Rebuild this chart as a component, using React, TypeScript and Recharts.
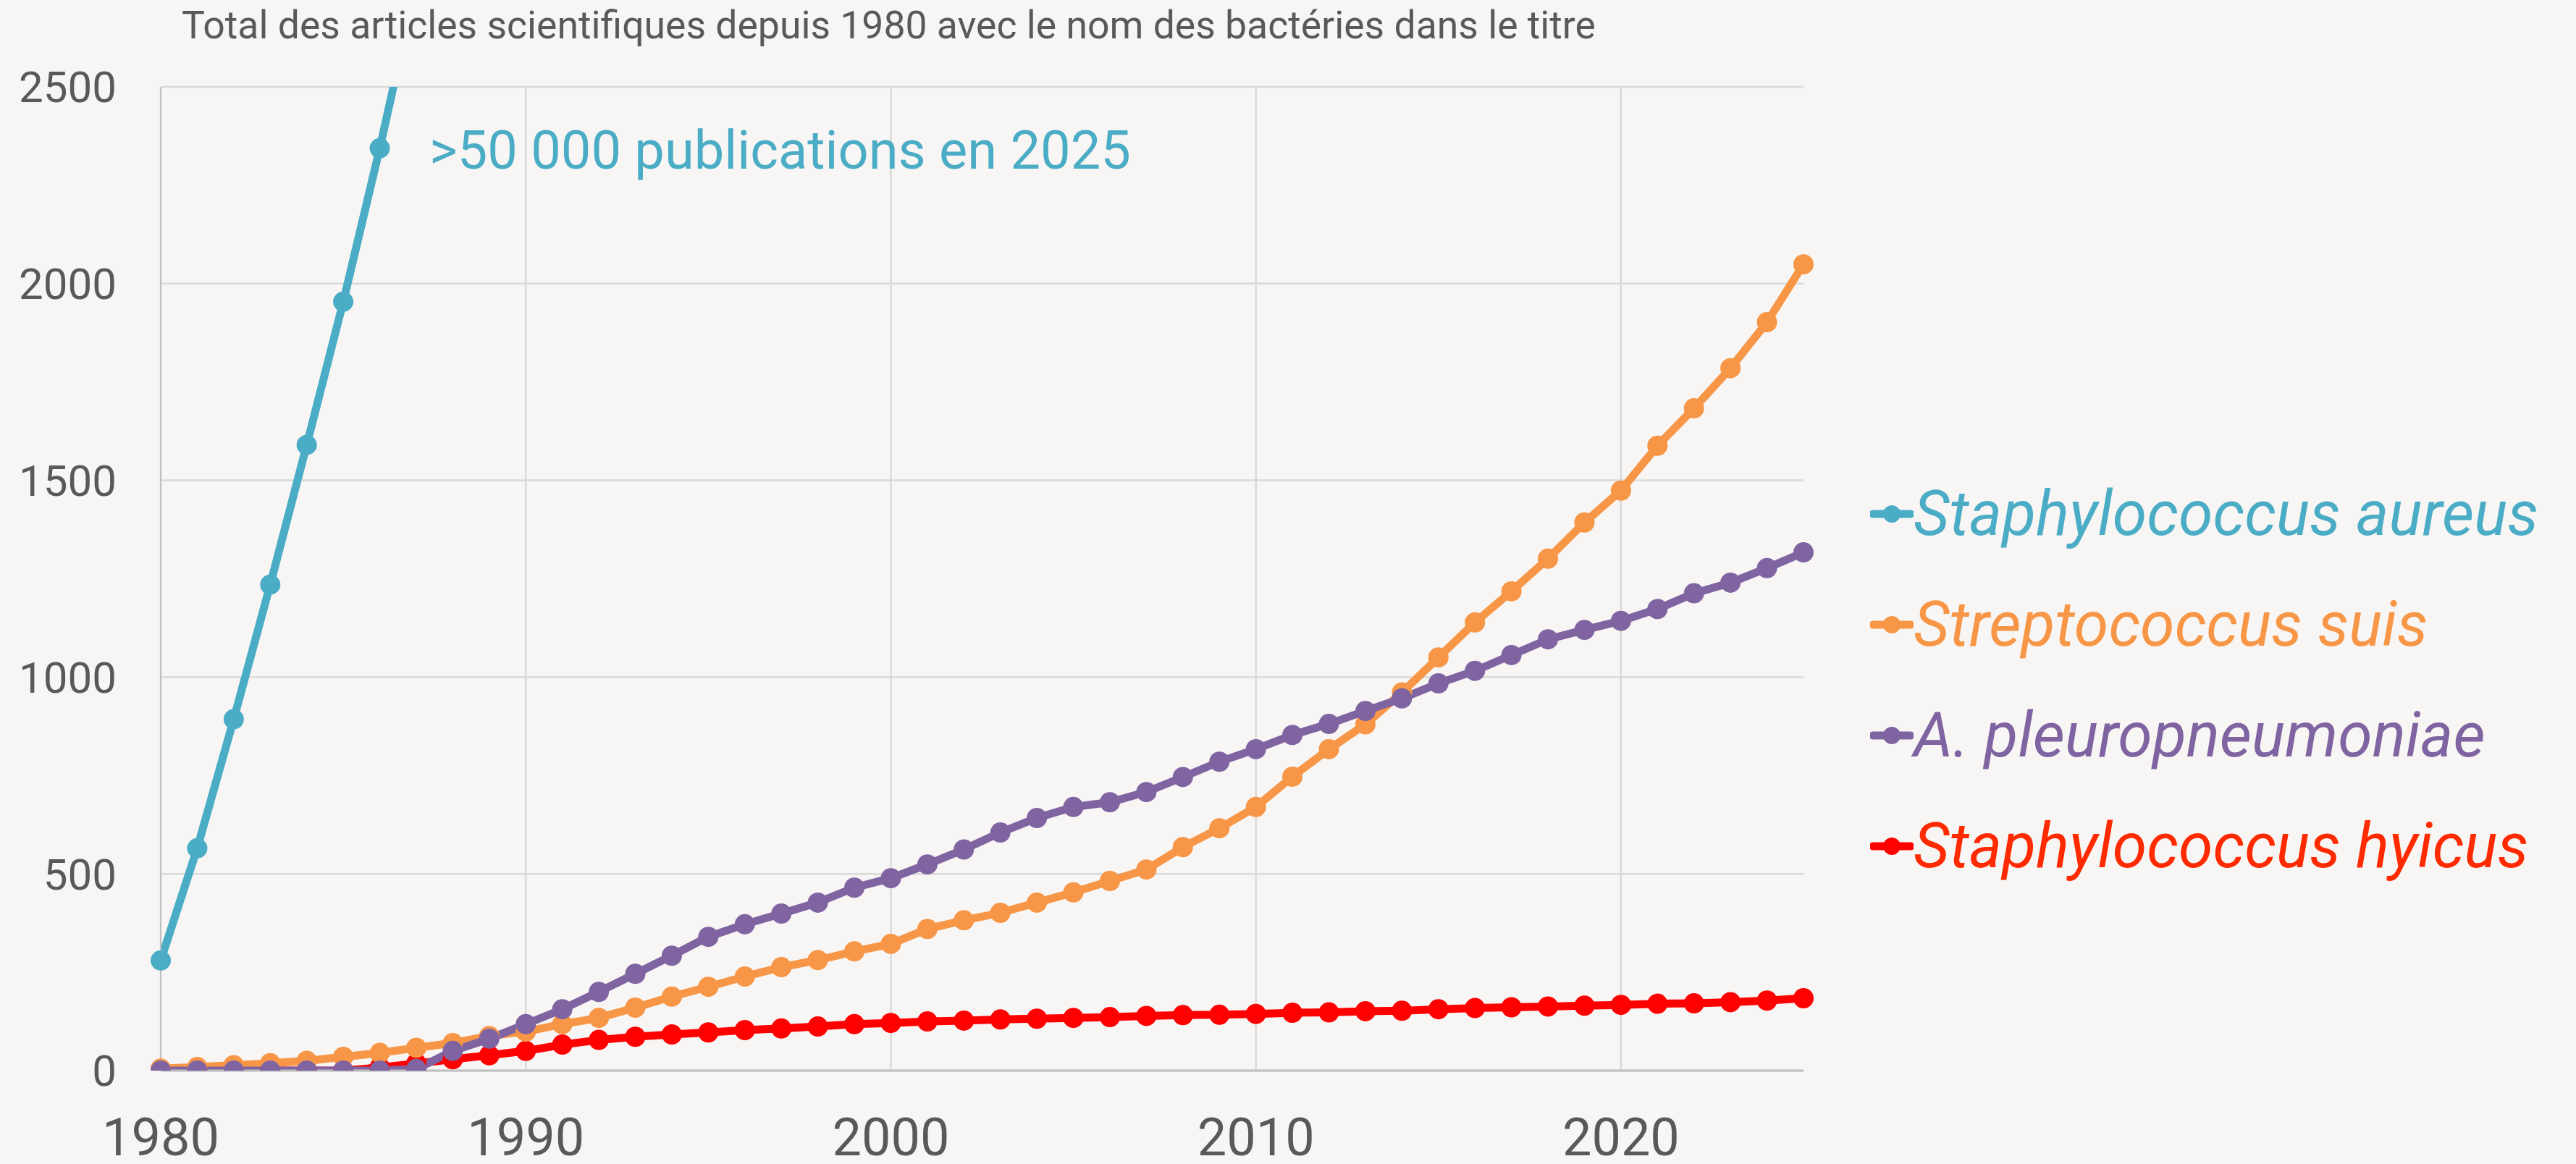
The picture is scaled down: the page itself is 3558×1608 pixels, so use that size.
import React from "react";
import {
  LineChart,
  Line,
  XAxis,
  YAxis,
  CartesianGrid,
  Legend,
} from "recharts";

// Années 1980 → 2025
const YEARS = [
  1980, 1981, 1982, 1983, 1984, 1985, 1986, 1987, 1988, 1989, 1990, 1991,
  1992, 1993, 1994, 1995, 1996, 1997, 1998, 1999, 2000, 2001, 2002, 2003,
  2004, 2005, 2006, 2007, 2008, 2009, 2010, 2011, 2012, 2013, 2014, 2015,
  2016, 2017, 2018, 2019, 2020, 2021, 2022, 2023, 2024, 2025,
];

// Staphylococcus aureus sort du cadre après 1986
const AUREUS = [280, 565, 893, 1235, 1590, 1954, 2344, 2760];

const SUIS = [
  5, 9, 14, 19, 25, 35, 45, 58, 70, 88, 99, 118, 134, 160, 188, 213, 239, 263,
  281, 303, 322, 360, 382, 401, 427, 453, 482, 511, 568, 616, 670, 747, 817,
  880, 961, 1050, 1139, 1218, 1301, 1393, 1474, 1588, 1683, 1785, 1902, 2049,
];

const PLEURO = [
  0, 0, 0, 0, 0, 0, 0, 4, 50, 81, 118, 156, 200, 246, 292, 340, 372, 399, 427,
  465, 489, 524, 562, 605, 642, 670, 682, 708, 746, 785, 817, 853, 881, 914,
  946, 984, 1016, 1056, 1096, 1120, 1143, 1173, 1213, 1240, 1277, 1317,
];

const HYICUS = [
  0, 0, 0, 0, 0, 0, 8, 18, 29, 39, 50, 66, 78, 86, 92, 97, 103, 107, 112, 118,
  121, 125, 127, 130, 132, 134, 136, 139, 141, 142, 144, 147, 148, 151, 152,
  156, 159, 161, 163, 165, 167, 170, 171, 174, 178, 184,
];

const X_TICKS = [1980, 1990, 2000, 2010, 2020];
const Y_TICKS = [0, 500, 1000, 1500, 2000, 2500];

const SERIES = [
  { key: "aureus", name: "Staphylococcus aureus", color: "#4BACC6", text: "#4BACC6" },
  { key: "suis", name: "Streptococcus suis", color: "#F79646", text: "#F79646" },
  { key: "pleuro", name: "A. pleuropneumoniae", color: "#8064A2", text: "#8064A2" },
  { key: "hyicus", name: "Staphylococcus hyicus", color: "#FF0000", text: "#FF2A00" },
];

const data = YEARS.map((year, i) => ({
  year,
  aureus: i < AUREUS.length ? AUREUS[i] : null,
  suis: SUIS[i],
  pleuro: PLEURO[i],
  hyicus: HYICUS[i],
}));

const FONT = "Roboto, 'Noto Sans', sans-serif";

const renderLegend = () => (
  <div style={{ fontFamily: FONT, textAlign: "left" }}>
    {SERIES.map((s) => (
      <div
        key={s.key}
        style={{ display: "flex", alignItems: "center", height: 153 }}
      >
        <svg width={60} height={30}>
          <line x1={4} y1={15} x2={56} y2={15} stroke={s.color} strokeWidth={11} strokeLinecap="round" />
          <circle cx={30} cy={15} r={12} fill={s.color} />
        </svg>
        <span
          style={{
            color: s.text,
            fontSize: 86,
            fontStyle: "italic",
            lineHeight: 1,
            whiteSpace: "nowrap",
          }}
        >
          {s.name}
        </span>
      </div>
    ))}
  </div>
);

const App: React.FC = () => {
  // ordre de tracé : rouge sous orange, violet au-dessus
  const drawOrder = ["aureus", "hyicus", "suis", "pleuro"];
  return (
    <div
      style={{
        position: "relative",
        width: 3558,
        height: 1608,
        background: "#F7F6F4",
        fontFamily: FONT,
        overflow: "hidden",
      }}
    >
      <style>{`body{margin:0;background:#F7F6F4}`}</style>
      <div
        style={{
          position: "absolute",
          left: 251,
          top: 8,
          fontSize: 53.5,
          lineHeight: 1,
          color: "#595959",
          whiteSpace: "nowrap",
        }}
      >
        Total des articles scientifiques depuis 1980 avec le nom des bactéries
        dans le titre
      </div>
      <LineChart
        width={3558}
        height={1608}
        data={data}
        margin={{ top: 120, right: 1067, bottom: 0, left: 0 }}
        style={{ position: "absolute", left: 0, top: 0 }}
      >
        <CartesianGrid
          stroke="#D9D9D9"
          strokeWidth={2.5}
          horizontalValues={Y_TICKS}
          verticalValues={X_TICKS}
        />
        <XAxis
          dataKey="year"
          type="number"
          domain={[1980, 2025]}
          ticks={X_TICKS}
          height={129}
          tickLine={false}
          tickMargin={60}
          axisLine={{ stroke: "#BFBFBF", strokeWidth: 3 }}
          tick={{ fill: "#595959", fontSize: 72, fontFamily: FONT }}
        />
        <YAxis
          type="number"
          domain={[0, 2500]}
          ticks={Y_TICKS}
          allowDataOverflow
          width={222}
          tickLine={false}
          tickMargin={55}
          axisLine={{ stroke: "#BFBFBF", strokeWidth: 2 }}
          tick={{ fill: "#595959", fontSize: 60, fontFamily: FONT }}
        />
        <Legend
          content={renderLegend}
          layout="horizontal"
          verticalAlign="middle"
          align="center"
          wrapperStyle={{ left: 2583, top: 633, width: 975 }}
        />
        {drawOrder.map((k) => {
          const s = SERIES.find((x) => x.key === k)!;
          return (
            <Line
              key={k}
              type="linear"
              dataKey={k}
              name={s.name}
              stroke={s.color}
              strokeWidth={11}
              dot={{ r: 14, fill: s.color, stroke: s.color, strokeWidth: 0 }}
              activeDot={false}
              isAnimationActive={false}
            />
          );
        })}
      </LineChart>
      <div
        style={{
          position: "absolute",
          left: 593,
          top: 171,
          fontSize: 74,
          lineHeight: 1,
          color: "#4BACC6",
          whiteSpace: "nowrap",
        }}
      >
        &gt;50 000 publications en 2025
      </div>
    </div>
  );
};

export default App;
